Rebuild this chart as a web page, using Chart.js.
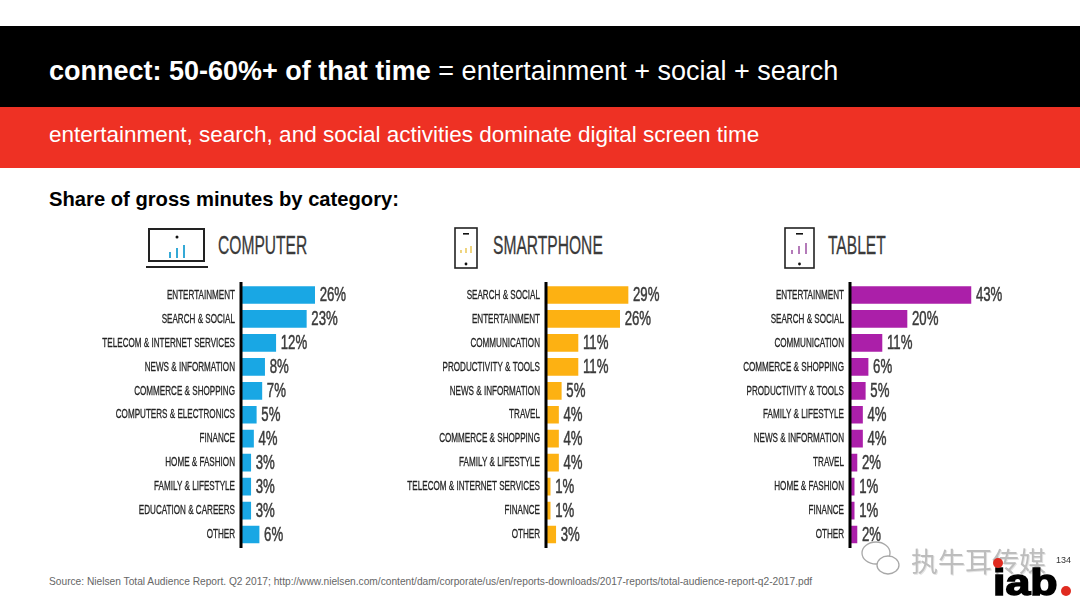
<!DOCTYPE html>
<html>
<head>
<meta charset="utf-8">
<script src="https://cdn.jsdelivr.net/npm/chart.js@4"></script>
<style>
  html, body { margin: 0; padding: 0; background: #fff; }
  #page { position: relative; width: 1080px; height: 608px; overflow: hidden; font-family: "Liberation Sans", Arial, sans-serif; }
  #page > * { position: absolute; }
  .band { left: 0; width: 1080px; }
  .txt { white-space: nowrap; line-height: 1; }
  .head { font-size: 26px; color: #3a3a3a; transform-origin: left center; transform: scaleX(0.6); -webkit-text-stroke: 0.3px #3a3a3a; }
  canvas { position: absolute; }
</style>
</head>
<body>
<div id="page">
  <div class="band" style="top:26px;height:81px;background:#000"></div>
  <div class="band" style="top:107px;height:61px;background:#ee3124"></div>
  <div class="txt" style="left:49px;top:58px;font-size:27px;color:#fff"><b>connect: 50-60%+ of that time</b> = entertainment + social + search</div>
  <div class="txt" style="left:49px;top:124px;font-size:22.5px;color:#fff">entertainment, search, and social activities dominate digital screen time</div>
  <div class="txt" style="left:49px;top:189px;font-size:20.2px;font-weight:bold;color:#000">Share of gross minutes by category:</div>

  <!-- icons -->
  <svg style="left:140px;top:222px" width="75" height="50">
    <rect x="9" y="7" width="55" height="32" fill="none" stroke="#222" stroke-width="2"/>
    <rect x="6" y="44" width="62" height="2" fill="#222"/>
    <circle cx="37" cy="15" r="1.5" fill="#111"/>
    <path d="M30 36v-6M37 36v-10M44 36v-13" stroke="#35a9d6" stroke-width="2"/>
  </svg>
  <div class="txt head" style="left:218px;top:232px">COMPUTER</div>
  <svg style="left:448px;top:222px" width="35" height="50">
    <rect x="7" y="6" width="22" height="40" fill="none" stroke="#222" stroke-width="1.6"/>
    <rect x="15" y="11" width="6" height="1.6" fill="#111"/>
    <circle cx="18" cy="42" r="1.4" fill="#111"/>
    <path d="M13 31v-3M18 31v-5M23 31v-7" stroke="#e8c34a" stroke-width="1.4"/>
  </svg>
  <div class="txt head" style="left:493px;top:232px">SMARTPHONE</div>
  <svg style="left:778px;top:222px" width="40" height="50">
    <rect x="7" y="6" width="29" height="40" fill="none" stroke="#222" stroke-width="1.6"/>
    <rect x="18" y="11" width="7" height="1.6" fill="#111"/>
    <circle cx="21.5" cy="42" r="1.4" fill="#111"/>
    <path d="M14 32v-4M21 32v-8M28 32v-11" stroke="#a25aa8" stroke-width="1.6"/>
  </svg>
  <div class="txt head" style="left:828px;top:232px">TABLET</div>

  <canvas id="computerChart" style="left:90px;top:280px" width="290" height="270"></canvas>
  <canvas id="smartphoneChart" style="left:395px;top:280px" width="290" height="270"></canvas>
  <canvas id="tabletChart" style="left:699px;top:280px" width="320" height="270"></canvas>

  <div class="txt" style="left:49px;top:577px;font-size:10.2px;color:#666">Source: Nielsen Total Audience Report. Q2 2017; http://www.nielsen.com/content/dam/corporate/us/en/reports-downloads/2017-reports/total-audience-report-q2-2017.pdf</div>

  <!-- watermark + logo -->
  <svg style="left:860px;top:540px" width="50" height="40">
    <ellipse cx="16" cy="13" rx="14" ry="11" fill="#fff" stroke="#a8a8a8" stroke-width="1.3"/>
    <ellipse cx="28" cy="25" rx="11" ry="9" fill="#fff" stroke="#a8a8a8" stroke-width="1.3"/>
  </svg>
  <div class="txt" style="left:911px;top:547px;font-family:'Noto Sans CJK SC';font-size:27px;color:#bdbdbd;text-shadow:1px 1px 0 #e4e4e4">执牛耳传媒</div>
  <div class="txt" style="left:1056px;top:556px;font-size:9px;color:#333">134</div>
  <div class="txt" style="left:993px;top:565px;font-size:36px;font-weight:bold;color:#000;-webkit-text-stroke:1.5px #000;transform-origin:left center;transform:scaleX(1.24)">iab</div>
  <svg style="left:992px;top:555px" width="88" height="45">
    <circle cx="6" cy="8" r="5" fill="#e02b20"/>
    <circle cx="74" cy="36" r="5" fill="#e02b20"/>
  </svg>
</div>

<script>
// 데이터
var computerLabels = ["ENTERTAINMENT", "SEARCH & SOCIAL", "TELECOM & INTERNET SERVICES", "NEWS & INFORMATION", "COMMERCE & SHOPPING", "COMPUTERS & ELECTRONICS", "FINANCE", "HOME & FASHION", "FAMILY & LIFESTYLE", "EDUCATION & CAREERS", "OTHER"];
var computerValues = [26, 23, 12, 8, 7, 5, 4, 3, 3, 3, 6];

var smartphoneLabels = ["SEARCH & SOCIAL", "ENTERTAINMENT", "COMMUNICATION", "PRODUCTIVITY & TOOLS", "NEWS & INFORMATION", "TRAVEL", "COMMERCE & SHOPPING", "FAMILY & LIFESTYLE", "TELECOM & INTERNET SERVICES", "FINANCE", "OTHER"];
var smartphoneValues = [29, 26, 11, 11, 5, 4, 4, 4, 1, 1, 3];

var tabletLabels = ["ENTERTAINMENT", "SEARCH & SOCIAL", "COMMUNICATION", "COMMERCE & SHOPPING", "PRODUCTIVITY & TOOLS", "FAMILY & LIFESTYLE", "NEWS & INFORMATION", "TRAVEL", "HOME & FASHION", "FINANCE", "OTHER"];
var tabletValues = [43, 20, 11, 6, 5, 4, 4, 2, 1, 1, 2];

// 좁은 글꼴이 없어서 가로로 눌러서 그림
function narrowText(ctx, text, x, y, squeeze, weight) {
  ctx.save();
  ctx.translate(x, y);
  ctx.scale(squeeze, 1);
  ctx.lineWidth = weight;
  ctx.strokeStyle = ctx.fillStyle;
  ctx.strokeText(text, 0, 0);
  ctx.fillText(text, 0, 0);
  ctx.restore();
}

// 카테고리 라벨, 값 라벨, 세로축
var barDecor = {
  id: "barDecor",
  afterDraw: function (chart) {
    var ctx = chart.ctx;
    var meta = chart.getDatasetMeta(0);
    var yScale = chart.scales.y;
    var axisX = chart.chartArea.left;
    ctx.save();
    ctx.fillStyle = "#000";
    ctx.fillRect(axisX - 1.5, 2, 3, 266);
    ctx.textBaseline = "middle";

    ctx.fillStyle = "#222";
    ctx.font = "13.5px 'Liberation Sans', sans-serif";
    ctx.textAlign = "right";
    chart.data.labels.forEach(function (label, i) {
      narrowText(ctx, label, axisX - 6, yScale.getPixelForTick(i), 0.6, 0.3);
    });

    ctx.fillStyle = "#3a3a3a";
    ctx.font = "20px 'Liberation Sans', sans-serif";
    ctx.textAlign = "left";
    meta.data.forEach(function (bar, i) {
      narrowText(ctx, chart.data.datasets[0].data[i] + "%", bar.x + 5, bar.y + 0.5, 0.66, 0.5);
    });
    ctx.restore();
  },
};

function makeChart(id, labels, values, color, xMax) {
  return new Chart(document.getElementById(id), {
    type: "bar",
    data: {
      labels: labels,
      datasets: [{ data: values, backgroundColor: color, barThickness: 17 }],
    },
    options: {
      indexAxis: "y",
      responsive: false,
      animation: false,
      layout: { padding: { top: 3, bottom: 3.5 } },
      plugins: { legend: { display: false }, tooltip: { enabled: false } },
      scales: {
        x: { display: false, min: -0.5, max: xMax },
        y: {
          afterFit: function (scale) { scale.width = 151; },
          grid: { display: false },
          border: { display: false },
          ticks: { display: false },
        },
      },
    },
    plugins: [barDecor],
  });
}

makeChart("computerChart", computerLabels, computerValues, "#19a7e4", 49.5);
makeChart("smartphoneChart", smartphoneLabels, smartphoneValues, "#fdb112", 49.5);
makeChart("tabletChart", tabletLabels, tabletValues, "#ab1fa9", 60.3);
</script>
</body>
</html>
